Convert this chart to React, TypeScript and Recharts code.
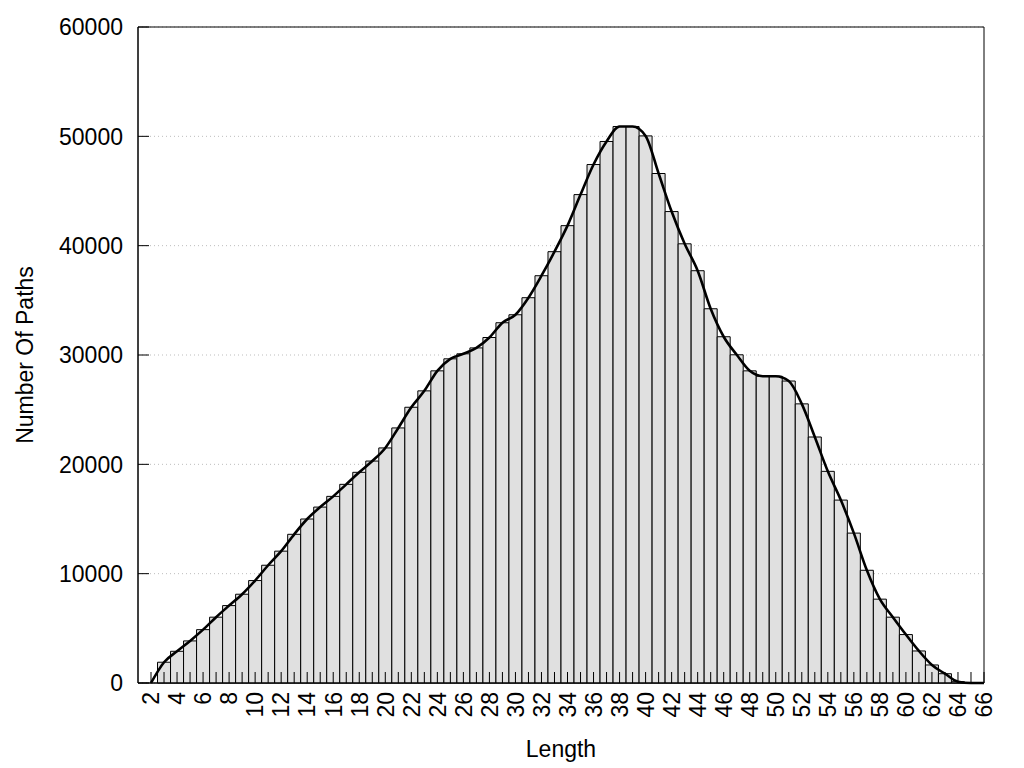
import React from "react";
import {
  Bar,
  CartesianGrid,
  ComposedChart,
  Line,
  ReferenceArea,
  XAxis,
  YAxis,
} from "recharts";

// path length (x) and number of paths with that length (y)
const lengths = [
  2, 3, 4, 5, 6, 7, 8, 9, 10, 11, 12, 13, 14, 15, 16, 17, 18, 19, 20, 21, 22, 23, 24, 25, 26, 27, 28, 29, 30, 31, 32, 33,
  34, 35, 36, 37, 38, 39, 40, 41, 42, 43, 44, 45, 46, 47, 48, 49, 50, 51, 52, 53, 54, 55, 56, 57, 58, 59, 60, 61, 62, 63,
  64, 65, 66,
];
const pathCounts = [
  0, 1900, 2900, 3850, 4880, 6020, 7080, 8120, 9370, 10770, 12060, 13600, 15000, 16090, 17070, 18170, 19270, 20300,
  21500, 23330, 25220, 26720, 28550, 29650, 30110, 30650, 31600, 32950, 33680, 35240, 37250, 39450, 41830, 44670, 47420,
  49530, 50900, 50900, 50040, 46600, 43120, 40170, 37710, 34230, 31670, 30020, 28550, 28060, 28060, 27620, 25530, 22500,
  19360, 16730, 13710, 10310, 7670, 6020, 4430, 2930, 1650, 850, 120, 0, 0,
];
const yTicks = [0, 10000, 20000, 30000, 40000, 50000, 60000];

const data = lengths.map((len, i) => ({ len, count: pathCounts[i] }));

const FONT = "'Liberation Sans', Arial, sans-serif";
const FS = 23;
const PLOT_LEFT = 138;
const PLOT_BOTTOM = 683;
const TICK_LEN = 11;

function XTick({ x, payload }: any) {
  const v = payload.value as number;
  return (
    <g>
      <line x1={x} x2={x} y1={PLOT_BOTTOM} y2={PLOT_BOTTOM - TICK_LEN} stroke="#000" />
      {v % 2 === 0 && (
        <text
          transform={`translate(${x},${PLOT_BOTTOM + 9}) rotate(-90)`}
          textAnchor="end"
          dy="0.36em"
          fontSize={FS}
          fontFamily={FONT}
          fill="#000"
        >
          {v}
        </text>
      )}
    </g>
  );
}

function YTick({ y, payload }: any) {
  return (
    <g>
      <line x1={PLOT_LEFT} x2={PLOT_LEFT + TICK_LEN} y1={y} y2={y} stroke="#000" />
      <text x={PLOT_LEFT - 15} y={y} dy="0.36em" textAnchor="end" fontSize={FS} fontFamily={FONT} fill="#000">
        {payload.value}
      </text>
    </g>
  );
}

export default function App() {
  return (
    <div style={{ position: "absolute", left: 0, top: 0, width: 1024, height: 768, background: "#fff" }}>
      <ComposedChart
        width={1024}
        height={768}
        data={data}
        margin={{ top: 27, right: 40, bottom: 0, left: 0 }}
        barCategoryGap={0}
        barGap={0}
      >
        <CartesianGrid vertical={false} stroke="#bdbdbd" strokeDasharray="1 3" />
        <XAxis
          dataKey="len"
          type="number"
          domain={[1, 66]}
          ticks={lengths}
          interval={0}
          height={85}
          axisLine={{ stroke: "#000" }}
          tickLine={false}
          tick={XTick}
          allowDataOverflow
          label={{ value: "Length", position: "insideBottom", offset: 11, fontSize: FS, fontFamily: FONT, fill: "#000" }}
        />
        <YAxis
          type="number"
          domain={[0, 60000]}
          ticks={yTicks}
          interval={0}
          width={138}
          axisLine={{ stroke: "#000" }}
          tickLine={false}
          tick={YTick}
          label={{
            value: "Number Of Paths",
            angle: -90,
            position: "center",
            dx: -44,
            fontSize: FS,
            fontFamily: FONT,
            fill: "#000",
          }}
        />
        <Bar dataKey="count" barSize={13} fill="#e0e0e0" stroke="#000" strokeWidth={1} isAnimationActive={false} />
        <Line
          dataKey="count"
          type="monotone"
          stroke="#000"
          strokeWidth={2.6}
          dot={false}
          activeDot={false}
          isAnimationActive={false}
        />
        <ReferenceArea x1={1} x2={66} y1={0} y2={60000} fill="none" stroke="#000" strokeWidth={1} ifOverflow="visible" />
      </ComposedChart>
    </div>
  );
}
